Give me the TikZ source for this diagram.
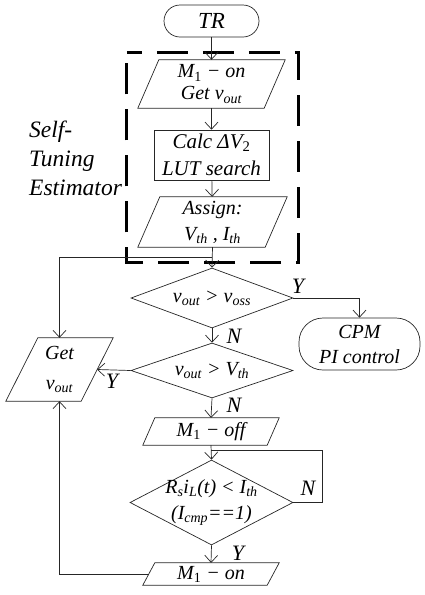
\documentclass[tikz,border=0pt]{standalone}
\usepackage{fontspec}
\setmainfont{Liberation Serif}
\usetikzlibrary{shapes.geometric,arrows.meta}

% subscript helpers
\newcommand\lowi[1]{\textsubscript{#1}}
\newcommand\lowu[1]{\textsubscript{\upshape #1}}

% outline of an input/output box drawn round a plain node
\newcommand\slantbox[2]{%
  \draw[flow] ([xshift=#2]#1.north west) -- (#1.north east)
    -- ([xshift=-#2]#1.south east) -- (#1.south west) -- cycle;}

\begin{document}
\begin{tikzpicture}[x=1pt,y=-1pt,
  flow/.style={line width=0.7pt,draw=black!85},
  tip/.style={flow,-{Straight Barb[length=7pt,width=13pt,line width=0.7pt]}},
  txt/.style={font=\fontsize{20}{24}\selectfont\itshape,align=center,inner sep=0pt},
  term/.style={txt,flow,draw},
  proc/.style={txt,flow,draw},
  iobox/.style={txt},
  decide/.style={flow,draw,diamond,inner sep=0pt},
  yn/.style={font=\fontsize{22}{24}\selectfont\itshape,inner sep=0pt},
  estline/.style={draw=black,line width=3pt,dash pattern=on 31pt off 15pt,dash phase=16pt}
]
\useasboundingbox (0,0) rectangle (425,595);

% estimator frame
\node[minimum width=171,minimum height=209,inner sep=0pt] (est) at (212.5,157.5) {};
\draw[estline] (est.north west) -- (est.north east) -- (est.south east)
  -- (est.south west) -- cycle;
\node[anchor=north west,align=left,inner sep=0pt,
      font=\fontsize{23.5}{29}\selectfont\itshape] (estlabel) at (29,121)
      {Self-\\Tuning\\Estimator};

% start
\node[term,minimum width=95,minimum height=32,rounded corners=16,
      font=\fontsize{23}{24}\selectfont\itshape] (tr) at (211.5,21) {TR};

% estimator steps
\node[iobox,minimum width=147,minimum height=48,
      font=\fontsize{20}{22}\selectfont\itshape] (m1on) at (211.5,84)
      {M\lowu{1} − on\\Get v\lowi{out}};
\slantbox{m1on}{21}
\node[proc,minimum width=115,minimum height=50,
      font=\fontsize{21}{27}\selectfont\itshape] (calc) at (211.5,155)
      {Calc ΔV\lowu{2}\\LUT search};
\node[iobox,minimum width=149,minimum height=50,
      font=\fontsize{20}{26}\selectfont\itshape] (assign) at (212.5,222)
      {Assign:\\V\lowi{th} , I\lowi{th}};
\slantbox{assign}{22}

% decisions
\node[decide,minimum width=162,minimum height=60,
      label={[txt]center:v\lowi{out} > v\lowi{oss}}] (d1) at (212,298) {};
\node[term,minimum width=121,minimum height=52,rounded corners=24,
      font=\fontsize{20}{25}\selectfont\itshape] (cpm) at (359.5,344)
      {CPM\\PI control};
\node[decide,minimum width=162,minimum height=55,
      label={[txt]center:v\lowi{out} > V\lowi{th}}] (d2) at (212,370.5) {};
\node[iobox,minimum width=107,minimum height=63,
      font=\fontsize{20}{30}\selectfont\itshape] (get) at (59.5,369.5)
      {Get\\v\lowi{out}};
\slantbox{get}{32}
\node[iobox,minimum width=136,minimum height=27] (moff) at (211,431.5)
      {M\lowu{1} − off};
\slantbox{moff}{12}
\node[decide,minimum width=163,minimum height=85,
      label={[txt,font=\fontsize{20}{26}\selectfont\itshape]center:R\lowi{s}i\lowi{L}(t) < I\lowi{th}\\(I\lowi{cmp}==1)}] (d3) at (211.5,502.5) {};
\node[iobox,minimum width=136,minimum height=22] (mon) at (211,574)
      {M\lowu{1} − on};
\slantbox{mon}{12}

% junction points
\coordinate (j1) at (212,257);
\coordinate (j2) at (211,450);
\coordinate (getin) at ([xshift=-16]get.east);
\coordinate (monout) at ([xshift=6]mon.west);

% connectors
\draw[tip] (tr) -- (m1on);
\draw[tip] (m1on) -- (calc);
\draw[tip] (calc) -- (assign);
\draw[tip] (assign.south) -- (d1.north);
\draw[tip] (j1) -| (get.north);
\draw[tip] (d1.east) -| (cpm.north);
\draw[tip] (d1.south) -- (d2.north);
\draw[tip] (d2.west) -- (getin);
\draw[tip] (d2.south) -- (moff.north);
\draw[tip] (moff.south) -- (d3.north);
\draw[flow] (j2) -- (322,450) |- (d3.east);
\draw[tip] (d3.south) -- (mon.north);
\draw[tip] (monout) -| (get.south);

% branch labels
\node[yn] (y1) at (298,286) {Y};
\node[yn] (n1) at (234,336) {N};
\node[yn] (y2) at (112,381) {Y};
\node[yn] (n2) at (234,405) {N};
\node[yn] (n3) at (308,488) {N};
\node[yn] (y3) at (238,553) {Y};
\end{tikzpicture}
\end{document}
